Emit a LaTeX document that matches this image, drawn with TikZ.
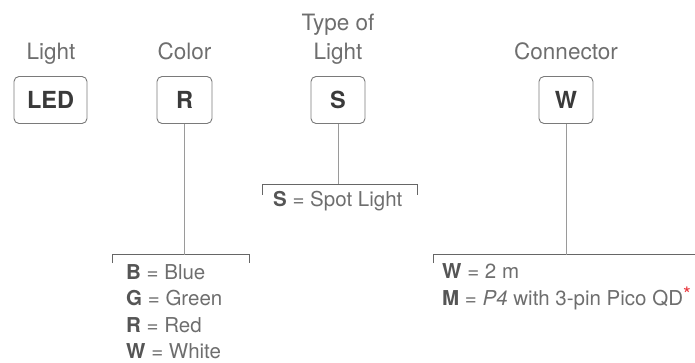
\documentclass[tikz,border=0pt]{standalone}
\usepackage{fontspec}
\setmainfont{TeX Gyre Heros}
\definecolor{boxline}{HTML}{7A7A7A}
\definecolor{stemline}{HTML}{9A9A9A}
\definecolor{brackline}{HTML}{666666}
\definecolor{labeltext}{HTML}{6E6E6E}
\definecolor{codetext}{HTML}{3A3A3A}
\definecolor{listtext}{HTML}{6E6E6E}
\definecolor{listcode}{HTML}{555555}
\definecolor{astred}{HTML}{E8333A}
\begin{document}
\begin{tikzpicture}[x=1pt,y=-1pt,
  codebox/.style={draw=boxline, line width=0.9pt, rounded corners=5pt, minimum height=47pt, inner sep=0pt, text=codetext, font=\fontsize{23.5}{26}\selectfont\bfseries},
  headlabel/.style={anchor=base, text=labeltext, inner sep=0pt, font=\fontsize{22.5}{29}\selectfont},
  listitem/.style={anchor=base west, text=listtext, inner sep=0pt, font=\fontsize{20.5}{22}\selectfont},
  stem/.style={draw=stemline, line width=0.9pt},
  brack/.style={draw=brackline, line width=0.9pt}]
\useasboundingbox (0,0) rectangle (695,363);

% boxes
\node[codebox, minimum width=73pt] (led) at (50.5,100) {LED};
\node[codebox, minimum width=55pt] (col) at (184.5,100) {R};
\node[codebox, minimum width=54pt] (typ) at (338,100) {S};
\node[codebox, minimum width=54pt] (con) at (566,100) {W};

% headings
\node[headlabel] (hlight) at (51,60) {Light};
\node[headlabel] (hcolor) at (184.5,60) {Color};
\node[headlabel] (htype1) at (338,31) {Type of};
\node[headlabel] (htype2) at (338,60) {Light};
\node[headlabel] (hconn) at (566,60) {Connector};

% brackets
\coordinate (cbl) at (112,263);
\coordinate (cbr) at (249,263);
\coordinate (cbm) at (184.5,254.5);
\draw[brack] (cbl) -- (112,254.5) -- (249,254.5) -- (cbr);
\draw[stem] (col.south) -- (cbm);

\coordinate (sbl) at (262,195);
\coordinate (sbr) at (417,195);
\coordinate (sbm) at (338,184.5);
\draw[brack] (sbl) -- (262,184.5) -- (417,184.5) -- (sbr);
\draw[stem] (typ.south) -- (sbm);

\coordinate (wbl) at (433,263);
\coordinate (wbr) at (700,254.5);
\coordinate (wbm) at (566,254.5);
\draw[brack] (wbl) -- (433,254.5) -- (wbr);
\draw[stem] (con.south) -- (wbm);

% lists
\node[listitem] (s1) at (273,207) {\textcolor{listcode}{\textbf{S}} = Spot Light};

\node[listitem] (c1) at (126,279) {\textcolor{listcode}{\textbf{B}} = Blue};
\node[listitem] (c2) at (126,305.5) {\textcolor{listcode}{\textbf{G}} = Green};
\node[listitem] (c3) at (126,332) {\textcolor{listcode}{\textbf{R}} = Red};
\node[listitem] (c4) at (126,358) {\textcolor{listcode}{\textbf{W}} = White};

\node[listitem] (w1) at (442,278.5) {\textcolor{listcode}{\textbf{W}} = 2 m};
\node[listitem] (w2) at (442,305) {\textcolor{listcode}{\textbf{M}} = \textit{P4} with 3-pin Pico QD\textcolor{astred}{\raisebox{0.35ex}{\fontsize{20}{20}\selectfont *}}};
\end{tikzpicture}
\end{document}
